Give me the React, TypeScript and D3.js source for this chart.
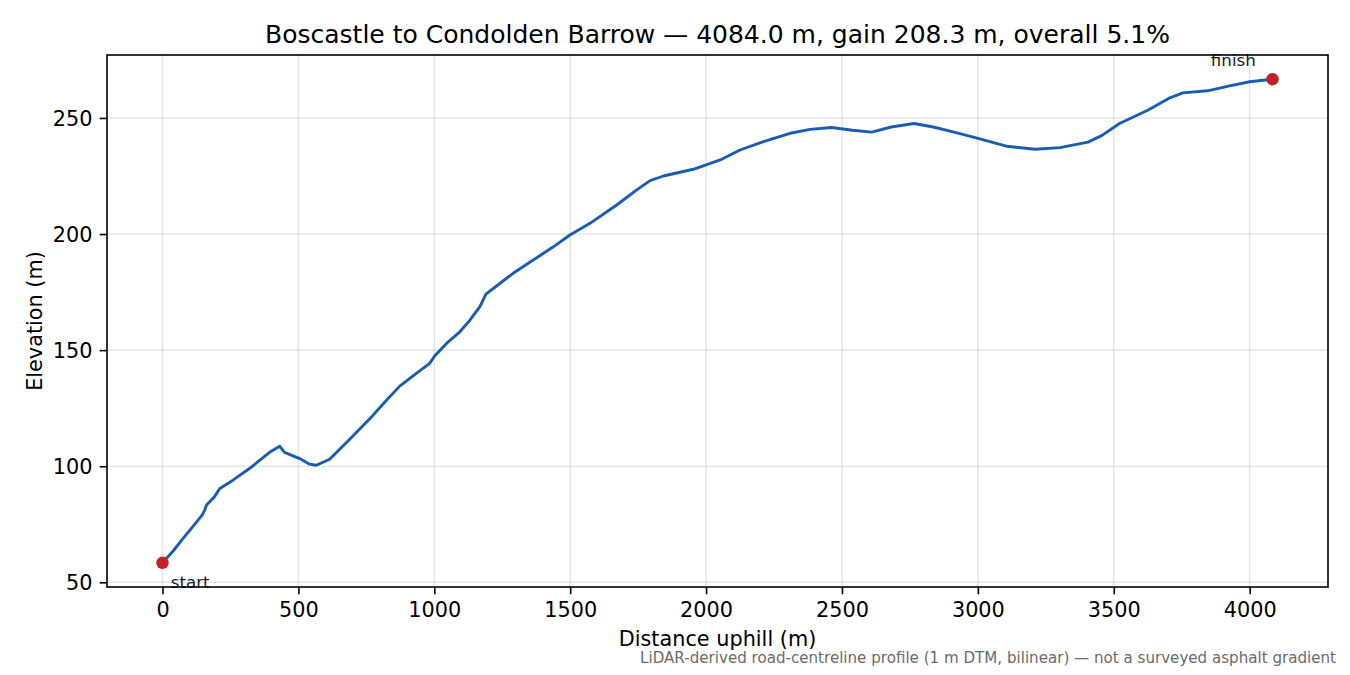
import { useEffect, useRef } from 'react';
import * as d3 from 'd3';

// Road profile (distance along road in m, elevation in m)
const distances = [
    0, 40, 75, 110, 145, 155, 162, 191, 210, 259, 320, 394, 431, 449, 505, 541, 566, 615,
    689, 775, 824, 873, 934, 983, 1002, 1045, 1094, 1131, 1168, 1190, 1241, 1290, 1364,
    1438, 1499, 1573, 1671, 1745, 1794, 1843, 1953, 2052, 2125, 2211, 2309, 2383, 2461,
    2539, 2610, 2681, 2765, 2836, 2927, 3004, 3108, 3211, 3302, 3405, 3457, 3521, 3625,
    3702, 3754, 3845, 3922, 4000, 4084
];
const elevations = [
    58.4, 63.6, 68.8, 73.8, 78.8, 81.0, 83.3, 86.8, 90.3, 94.0, 99.0, 106.0, 108.6, 106.0,
    103.3, 100.9, 100.4, 103.0, 111.6, 122.0, 128.4, 134.5, 140.0, 144.3, 147.6, 152.9,
    157.9, 162.9, 168.7, 174.1, 178.7, 183.1, 188.8, 194.5, 199.6, 204.6, 212.5, 219.0,
    223.0, 225.0, 227.9, 231.9, 236.2, 239.8, 243.4, 245.1, 245.9, 244.7, 243.9, 246.1,
    247.6, 246.1, 243.5, 241.1, 237.8, 236.5, 237.2, 239.6, 242.5, 247.6, 253.3, 258.4,
    260.8, 261.7, 263.7, 265.6, 266.7
];

const xTicks = [0, 500, 1000, 1500, 2000, 2500, 3000, 3500, 4000];
const yTicks = [50, 100, 150, 200, 250];

const titleText = 'Boscastle to Condolden Barrow \u2014 4084.0 m, gain 208.3 m, overall 5.1%';
const xLabel = 'Distance uphill (m)';
const yLabel = 'Elevation (m)';
const footnote = 'LiDAR-derived road-centreline profile (1 m DTM, bilinear) \u2014 not a surveyed asphalt gradient';
const endLabels = ['start', 'finish'];

const FONT = '"DejaVu Sans", sans-serif';

const App = () => {
    const svgRef = useRef<SVGSVGElement>(null);

    useEffect(() => {
        if (!svgRef.current) return;
        const svg = d3.select(svgRef.current);
        svg.selectAll('*').remove();

        const W = 1350, H = 675;
        const margin = { top: 55, right: 22, bottom: 88, left: 107 };
        const left = margin.left, right = W - margin.right;
        const top = margin.top, bottom = H - margin.bottom;

        svg.append('rect').attr('width', W).attr('height', H).attr('fill', '#fff');

        const data = distances.map((d, i) => ({ d, e: elevations[i] }));

        // matplotlib-like 5% autoscale margins
        const [x0, x1] = d3.extent(distances) as [number, number];
        const [y0, y1] = d3.extent(elevations) as [number, number];
        const px = (x1 - x0) * 0.05, py = (y1 - y0) * 0.05;

        const x = d3.scaleLinear().domain([x0 - px, x1 + px]).range([left, right]);
        const y = d3.scaleLinear().domain([y0 - py, y1 + py]).range([bottom, top]);

        // Grid
        const grid = svg.append('g').attr('stroke', '#b0b0b0').attr('stroke-opacity', 0.3).attr('stroke-width', 1.6);
        xTicks.forEach(t => {
            grid.append('line').attr('x1', x(t)).attr('x2', x(t)).attr('y1', top).attr('y2', bottom);
        });
        yTicks.forEach(t => {
            grid.append('line').attr('x1', left).attr('x2', right).attr('y1', y(t)).attr('y2', y(t));
        });

        // Axes
        const xAxis = svg.append('g')
            .attr('transform', `translate(0,${bottom})`)
            .call(d3.axisBottom(x).tickValues(xTicks).tickSize(7.3).tickPadding(8).tickFormat(d3.format('d')));
        const yAxis = svg.append('g')
            .attr('transform', `translate(${left},0)`)
            .call(d3.axisLeft(y).tickValues(yTicks).tickSize(7.3).tickPadding(7.3).tickFormat(d3.format('d')));

        [xAxis, yAxis].forEach(ax => {
            ax.select('.domain').remove();
            ax.selectAll('line').attr('stroke', '#000').attr('stroke-width', 1.6);
            ax.selectAll('text')
                .attr('fill', '#000')
                .style('font-family', FONT)
                .style('font-size', '20.8px');
        });
        yAxis.selectAll('text').attr('dy', '0.36em');

        // Profile line
        const line = d3.line<{ d: number; e: number }>()
            .x(p => x(p.d))
            .y(p => y(p.e));

        svg.append('path')
            .datum(data)
            .attr('fill', 'none')
            .attr('stroke', '#1a5cb0')
            .attr('stroke-width', 2.9)
            .attr('stroke-linejoin', 'round')
            .attr('d', line);

        // Start / finish markers
        const ends = [data[0], data[data.length - 1]];
        svg.selectAll('.end')
            .data(ends)
            .enter().append('circle')
            .attr('class', 'end')
            .attr('cx', p => x(p.d))
            .attr('cy', p => y(p.e))
            .attr('r', 6.2)
            .attr('fill', '#c41e2c');

        svg.append('text')
            .attr('x', x(ends[0].d) + 8.3)
            .attr('y', y(ends[0].e) + 25)
            .attr('text-anchor', 'start')
            .style('font-family', FONT)
            .style('font-size', '16.7px')
            .attr('fill', '#1a1a1a')
            .text(endLabels[0]);

        svg.append('text')
            .attr('x', x(ends[1].d) - 16.7)
            .attr('y', y(ends[1].e) - 13)
            .attr('text-anchor', 'end')
            .style('font-family', FONT)
            .style('font-size', '16.7px')
            .attr('fill', '#1a1a1a')
            .text(endLabels[1]);

        // Frame
        svg.append('rect')
            .attr('x', left).attr('y', top)
            .attr('width', right - left).attr('height', bottom - top)
            .attr('fill', 'none')
            .attr('stroke', '#000')
            .attr('stroke-width', 1.6);

        // Title and labels
        svg.append('text')
            .attr('x', (left + right) / 2)
            .attr('y', 42.5)
            .attr('text-anchor', 'middle')
            .style('font-family', FONT)
            .style('font-size', '25px')
            .text(titleText);

        svg.append('text')
            .attr('x', (left + right) / 2)
            .attr('y', 646)
            .attr('text-anchor', 'middle')
            .style('font-family', FONT)
            .style('font-size', '20.8px')
            .text(xLabel);

        svg.append('text')
            .attr('transform', `translate(41.5,${(top + bottom) / 2}) rotate(-90)`)
            .attr('text-anchor', 'middle')
            .style('font-family', FONT)
            .style('font-size', '20.8px')
            .text(yLabel);

        svg.append('text')
            .attr('x', 1336)
            .attr('y', 663)
            .attr('text-anchor', 'end')
            .attr('fill', '#6b6b6b')
            .style('font-family', FONT)
            .style('font-size', '15.1px')
            .text(footnote);
    }, []);

    return (
        <svg
            ref={svgRef}
            width={1350}
            height={675}
            style={{ position: 'absolute', left: 0, top: 0, display: 'block' }}
        />
    );
};

export default App;
